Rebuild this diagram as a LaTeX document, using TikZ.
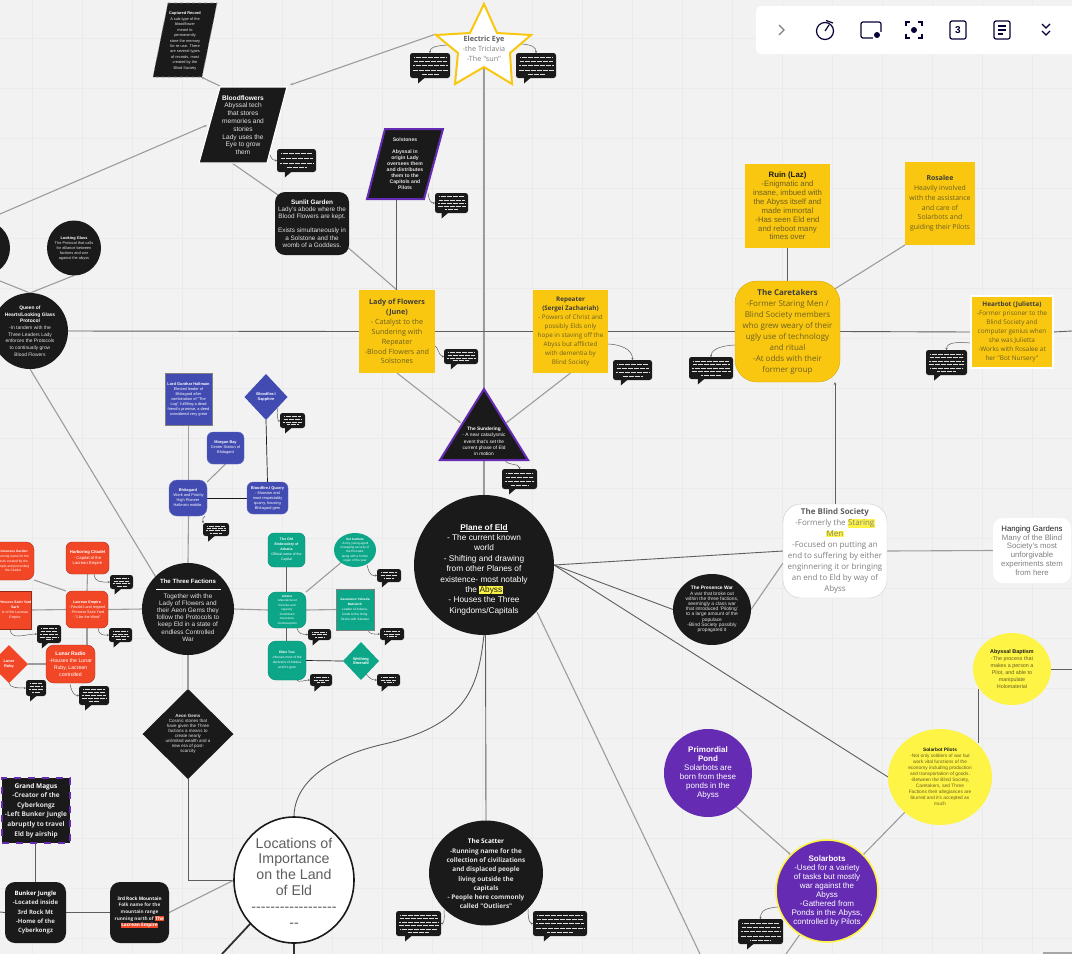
\documentclass[tikz,border=0pt]{standalone}
\usepackage{fontspec}
\setmainfont{Liberation Sans}
\newfontfamily\os{Open Sans}
\usetikzlibrary{shapes.geometric,arrows.meta,calc}
\pgfdeclarelayer{bg}\pgfsetlayers{bg,main}
\definecolor{paper}{HTML}{F2F2F2}
\definecolor{gridc}{HTML}{EBEBEB}
\definecolor{dark}{HTML}{1A1A1A}
\definecolor{lite}{HTML}{E2E2E2}
\definecolor{ylw}{HTML}{FAC710}
\definecolor{ylwt}{HTML}{6B6020}
\definecolor{lem}{HTML}{FEF445}
\definecolor{redb}{HTML}{F24726}
\definecolor{blu}{HTML}{414BB2}
\definecolor{grn}{HTML}{0CA789}
\definecolor{pur}{HTML}{652CB3}
\definecolor{navy}{HTML}{050038}
\definecolor{ln}{HTML}{9C9C9C}
\definecolor{lnd}{HTML}{5E5E5E}
\definecolor{gr}{HTML}{808080}
\newcommand\fs[2]{\fontsize{#1}{#2}\selectfont}
\newcommand\hl[2]{{\setlength\fboxsep{0.3pt}\colorbox{#1}{#2}}}
\tikzset{
 shp/.style={inner sep=0pt,outer sep=0pt},
 txt/.style={align=center,inner sep=0pt,outer sep=0pt},
 blk/.style={shp,fill=dark,text=lite},
 con/.style={line width=1.1pt,draw=ln},
 cond/.style={line width=.9pt,draw=lnd},
 tipped/.style={-{Stealth[length=3pt,width=2.5pt]}},
 bc/.style={line width=.5pt,draw=lnd,-{Stealth[length=2pt,width=2pt]}},
 ylwb/.style={shp,fill=ylw,text=ylwt},
 redn/.style={shp,fill=redb,text=white,rounded corners=6pt,draw=redb!70!black,line width=.4pt},
 blun/.style={shp,fill=blu,text=white,rounded corners=6pt,draw=blu!80!white,line width=.4pt},
 grnn/.style={shp,fill=grn,text=white,rounded corners=6pt,draw=grn!80!black,line width=.4pt},
}
% box from corners, text inside
\newcommand\Bx[7]{%
 \pgfmathsetmacro\Cxv{(#2+#4)/2}\pgfmathsetmacro\Cyv{(#3+#5)/2}%
 \pgfmathsetmacro\Wv{#4-#2}\pgfmathsetmacro\Hv{#5-#3}%
 \node[align=center,#6,minimum width=\Wv pt,minimum height=\Hv pt] (#1) at (\Cxv,\Cyv) {#7};}
% ellipse with separate text node
\newcommand\El[8]{%
 \pgfmathsetmacro\Wv{2*#4}\pgfmathsetmacro\Hv{2*#5}%
 \node[ellipse,shp,#6,minimum width=\Wv pt,minimum height=\Hv pt] (#1) at (#2,#3) {};
 \node[txt,#7] (#1-t) at (#2,#3) {#8};}
% diamond with separate text node
\newcommand\Dm[8]{%
 \pgfmathsetmacro\Wv{2*#4}\pgfmathsetmacro\Hv{2*#5}\pgfmathsetmacro\Av{#4/#5}%
 \node[diamond,aspect=\Av,shp,#6,minimum width=\Wv pt,minimum height=\Hv pt] (#1) at (#2,#3) {};
 \node[txt,#7] (#1-t) at (#2,#3) {#8};}
% speech bubble with unreadable micro lines
\newcommand\Bub[6]{%
 \Bx{#1}{#2}{#3}{#4}{#5}{shp,fill=dark,rounded corners=2.5pt}{}
 \pgfmathsetmacro\Tv{#2+0.2*(#4-#2)}\pgfmathsetmacro\Tw{\Tv+7}\pgfmathsetmacro\Ty{#5+5.5}\pgfmathsetmacro\Tz{#5-.5}%
 \fill[dark] (\Tv,\Tz)--(\Tv,\Ty)--(\Tw,\Tz)--cycle;
 \foreach \i in {1,...,#6}{%
  \pgfmathsetmacro\Yv{#3+2+(#5-#3-4)*(\i-.5)/#6}%
  \pgfmathsetmacro\Iv{2.5+mod(\i*7,4)*.6+(\i==#6)*(#4-#2)*.18}%
  \pgfmathsetmacro\Xa{#2+\Iv}\pgfmathsetmacro\Xb{#4-\Iv}%
  \draw[white!85!dark,line width=.4pt,dash pattern=on 1pt off .2pt] (\Xa,\Yv)--(\Xb,\Yv);}}
\newcommand\BC[6]{\coordinate (#1) at (#2,#3);
 \draw[bc] (#1) .. controls +(#4) and +(#5) .. (#6);}
\begin{document}
\begin{tikzpicture}[x=1pt,y=-1pt]
\useasboundingbox (0,0) rectangle (1072,954);
% ---------- free coordinates
\coordinate (lft1) at (0,214);
\coordinate (lft2) at (0,281);
\coordinate (lft3) at (0,610);
\coordinate (lft4) at (0,912);
\coordinate (rgt1) at (1072,331);
\coordinate (rgt2) at (1072,669);
\coordinate (bot1) at (700,954);
\coordinate (bot2) at (786,954);
\coordinate (bot3) at (294,954);
\coordinate (bot4) at (222,954);
% ---------- Parallelograms and star
\draw[fill=dark,draw=gr,line width=.6pt,dashed] (168,3)--(217,3)--(202,77)--(153,77)--cycle;
\node[txt,text=lite,font=\fs{3.9}{5.45}] (cap) at (185,41) {\textbf{\textcolor{white}{Captured Record}}\\A sub-type of the\\bloodflower\\meant to\\permanently\\store the memory\\for re-use. There\\are several types\\of records, most\\created by the\\Blind Society};
\draw[fill=dark,draw=white,line width=1.2pt] (220,87)--(287,87)--(267,163)--(199,163)--cycle;
\node[txt,text=lite,font=\fs{6.6}{7.8}] (bf) at (243,125) {\textbf{\textcolor{white}{Bloodflowers}}\\Abyssal tech\\that stores\\memories and\\stories\\Lady uses the\\Eye to grow\\them};
\draw[fill=dark,draw=pur,line width=2pt] (385,129)--(443,129)--(424,199)--(367,199)--cycle;
\node[txt,text=lite,font=\fs{5.1}{6}] (sol) at (405,164) {\textbf{Solstones}\\~\\\textbf{Abyssal in}\\\textbf{origin Lady}\\\textbf{oversees them}\\\textbf{and distributes}\\\textbf{them to the}\\\textbf{Capitols and}\\\textbf{Pilots}};
\draw[fill=white,draw=ylw,line width=2pt] (484,4)--(497,33)--(531,35)--(510,53)--(512,84)--(484,67)--(455,84)--(458,53)--(436,35)--(470,33)--cycle;
\node[txt,text=gr,font=\os\fs{7.2}{10}] (eye) at (484,49) {\textbf{\textcolor{lnd}{Electric Eye}}\\-the Triclavia\\-The "sun"};
\coordinate (bf-tr) at (290,85);
\coordinate (bf-tl) at (220,86);
\coordinate (bf-l) at (207,125);
\coordinate (bf-b) at (232,163);
\coordinate (cap-b) at (201,77);
\coordinate (eye-l) at (436,34);
\coordinate (eye-b) at (484,67);
\coordinate (sol-b) at (396,199);
% ---------- Top black
\Bx{sun}{275}{192}{349}{255}{blk,rounded corners=10pt,font=\fs{6.4}{7.2}}{\textbf{\textcolor{white}{Sunlit Garden}}\\Lady's abode where the\\Blood Flowers are kept.\\~\\Exists simultaneously in\\a Solstone and the\\womb of a Goddess.}
\El{qu}{30}{331}{38}{38}{fill=dark}{text=lite,font=\fs{4.9}{6.65}}{\textbf{\textcolor{white}{Queen of}}\\\textbf{\textcolor{white}{Hearts/Looking Glass}}\\\textbf{\textcolor{white}{Protocol}}\\-In tandem with the\\Three Leaders Lady\\enforces the Protocols\\to continually grow\\Blood Flowers}
\El{lg}{74}{248}{27}{27.5}{fill=dark}{text=lite,font=\fs{3.9}{5}}{\textbf{\textcolor{white}{Looking Glass}}\\The Protocol that calls\\for alliance between\\factions and war\\against the abyss}
\El{lg2}{-17}{248}{27}{27.5}{fill=dark}{text=lite,font=\fs{3.7}{5}}{}
% ---------- Yellow boxes
\Bx{lady}{359}{290}{435}{373}{ylwb,font=\os\fs{7.2}{9.9}}{\textbf{\textcolor{dark!85}{Lady of Flowers}}\\\textbf{\textcolor{dark!85}{(June)}}\\- Catalyst to the\\Sundering with\\Repeater\\-Blood Flowers and\\Solstones}
\Bx{rep}{533}{290}{608}{373}{ylwb,font=\os\fs{6.3}{8.9}}{\textbf{\textcolor{dark!85}{Repeater}}\\\textbf{\textcolor{dark!85}{(Sergei Zachariah)}}\\- Powers of Christ and\\possibly Elds only\\hope in staving off the\\Abyss but afflicted\\with dementia by\\Blind Society}
\Bx{ruin}{745}{164}{830}{248}{ylwb,font=\fs{7.8}{8.9}}{\textbf{\textcolor{dark}{Ruin (Laz)}}\\-Enigmatic and\\insane, imbued with\\the Abyss itself and\\made immortal\\-Has seen Eld end\\and reboot many\\times over}
\Bx{ros}{905}{162}{975}{245}{ylwb,font=\os\fs{6.9}{9.8}}{\textbf{\textcolor{dark!85}{Rosalee}}\\Heavily involved\\with the assistance\\and care of\\Solarbots and\\guiding their Pilots}
\Bx{care}{735}{281}{840}{382}{ylwb,rounded corners=22pt,draw=ylw!85!black,line width=.4pt,font=\os\fs{8}{11}}{\textbf{\textcolor{dark!85}{The Caretakers}}\\-Former Staring Men /\\Blind Society members\\who grew weary of their\\ugly use of technology\\and ritual\\-At odds with their\\former group}
\Bx{hb}{971}{296}{1053}{368}{ylwb,draw=white,line width=2pt,font=\os\fs{6.4}{9}}{\textbf{\textcolor{dark!85}{Heartbot (Julietta)}}\\-Former prisoner to the\\Blind Society and\\computer genius when\\she was Julietta\\-Works with Rosalee at\\her "Bot Nursery"}
% ---------- Sundering
\draw[fill=dark,draw=pur,line width=2pt] (484,389)--(528,460)--(440,460)--cycle;
\node[txt,text=white,font=\fs{4.8}{6.3}] (sund) at (484,441.5) {\textbf{The Sundering}\\- A near cataclysmic\\event that's set the\\current phase of Eld\\in motion};
\coordinate (sund-l) at (461,423);
\coordinate (sund-r) at (506,423);
\coordinate (sund-t) at (484,388);
% ---------- Blue
\Bx{lord}{165}{373}{212}{425}{shp,fill=blu,draw=gray,line width=.6pt,text=white,font=\fs{3.9}{5}}{\textbf{Lord Gunthar Hallmain}\\Elected leader of\\Bhitagard after\\combination of "The\\Log", fulfilling a dead\\friend's promise, a deed\\considered very great}
\Bx{mor}{207}{432}{244}{464}{blun,font=\fs{3.9}{5}}{\textbf{Morgan Bay}\\Center Station of\\Bhitagard}
\Bx{bhi}{169}{480}{207}{516}{blun,rounded corners=8pt,font=\fs{3.9}{5}}{\textbf{Bhitagard}\\-Work and Priority\\High Pioneer\\Hallmain mobile.}
\Bx{qua}{247}{482}{288}{514}{blun,font=\fs{3.9}{5}}{\textbf{Bloodfire.I Quarry}\\- Mansion and\\most respectably\\quarry, housing\\Bhitagard gem}
\Dm{sap}{266}{397}{21.5}{23}{fill=blu}{text=white,font=\fs{3.9}{5}}{\textbf{Bloodfire.I}\\\textbf{Sapphire}}
% ---------- Red
\Bx{pas}{-8}{542}{34}{580}{redn,rounded corners=8pt,font=\fs{3.3}{4.9}}{\textbf{Poisonous Garden}\\Running name for the\\lands created by the\\simple and preventing\\the Citadel}
\Bx{har}{66}{542}{109}{574}{redn,font=\fs{4.2}{5.8}}{\textbf{Harboring Citadel}\\- Capital of the\\Lacrean Empire}
\Bx{lac}{66}{591}{108}{628}{redn,font=\fs{3.7}{5}}{\textbf{Lacrean Empire}\\- Feudal Land reigned\\- Princess Saint Yard\\- "Like the Word"}
\Bx{pri}{-1}{591}{31}{629}{shp,fill=redb,text=white,draw=redb!60!black,line width=.6pt,font=\fs{3.5}{5}}{\textbf{Princess Saint Yard}\\\textbf{Sarh}\\le of the Lacrean\\Empire}
\Bx{rad}{46}{645}{95}{683}{redn,rounded corners=8pt,font=\fs{5.2}{7}}{\textbf{Lunar Radio}\\-Houses the Lunar\\Ruby, Lacrean\\controlled}
\Dm{rub}{9}{664}{19}{19}{fill=redb}{text=white,font=\fs{3.9}{5}}{\textbf{Lunar}\\\textbf{Ruby}}
% ---------- Green
\Bx{old}{268}{533}{305}{567}{grnn,font=\fs{3.5}{5}}{\textbf{The Old}\\\textbf{Embroidery of}\\\textbf{Arkaria}\\Official name of the\\Capital}
\Bx{ark}{268}{592}{306}{628}{grnn,rounded corners=8pt,font=\fs{3}{4.5}}{\textbf{Arkaria}\\-Manufactured\\miracles and\\tapestry\\-Contributor\\Assurance\\-Contraceptors}
\Bx{eld}{268}{641}{306}{680}{grnn,rounded corners=8pt,font=\fs{3.3}{5}}{\textbf{Elder Tree}\\-Houses most of the\\denizens of Arkaria\\and it's gem}
\Bx{ass}{336}{589}{374}{630}{shp,fill=grn,draw=gray,line width=.6pt,text=white,font=\fs{3.2}{5.1}}{\textbf{Assurance Yelvaria}\\\textbf{Matriarch}\\Leader of Arkaria,\\lends to the living\\Sirens with Saloster}
\El{sin}{355}{550}{21}{17}{fill=grn}{text=white,font=\fs{3.1}{4.2}}{\textbf{Sol Institute}\\-A tiny young agent\\managing security of\\the Emerald,\\along with a former\\organ of the year}
\Dm{eme}{361}{661}{18}{19}{fill=grn}{text=white,font=\fs{3.9}{4.8}}{\textbf{Writhing}\\\textbf{Emerald}}
% ---------- Big black
\El{fac}{188}{609}{46}{46}{fill=dark}{text=lite,font=\fs{6.4}{7.15},yshift=-8.5pt}{Together with the\\Lady of Flowers and\\their Aeon Gems they\\follow the Protocols to\\keep Eld in a state of\\endless Controlled\\War}
\node[txt,text=white,font=\fs{6.1}{7}] (fac-h) at (188,581) {\textbf{The Three Factions}};
\draw[white,line width=.5pt] (156,589)--(221,589);
\Dm{aeo}{188}{734}{45.5}{45}{fill=dark}{text=lite,font=\fs{4.5}{5}}{\textbf{Aeon Gems}\\Cosmic stones that\\have given the Three\\factions a means to\\create nearly\\unlimited wealth and a\\new era of post-\\scarcity}
\El{pla}{484}{565}{70}{70}{fill=dark}{text=white,font=\fs{8.3}{10.4},yshift=-4.5pt}{\underline{\textbf{Plane of Eld}}\\- The current known\\world\\- Shifting and drawing\\from other Planes of\\existence- most notably\\the \hl{lem}{\textcolor{dark}{Abyss}}\\- Houses the Three\\Kingdoms/Capitals}
\El{pw}{712}{609.5}{39}{35.5}{fill=dark}{text=lite,font=\fs{4.9}{5.2}}{\textbf{\textcolor{white}{The Presence War}}\\A war that broke out\\within the three factions,\\seemingly a class war\\that introduced 'Piloting'\\to a large amount of the\\populace\\-Blind Society possibly\\propagated it}
\El{sca}{486}{873}{57}{52.5}{fill=dark}{text=lite,font=\os\fs{6.4}{9.3},yshift=-1pt}{\textbf{\textcolor{white}{The Scatter}}\\\textbf{-Running name for the}\\\textbf{collection of civilizations}\\\textbf{and displaced people}\\\textbf{living outside the}\\\textbf{capitals}\\\textbf{- People here commonly}\\\textbf{called "Outliers"}}
% ---------- White
\Bx{bli}{783}{504}{887}{598}{shp,fill=white,draw=gray!40,line width=.4pt,rounded corners=18pt,text=gr,font=\os\fs{8}{11}}{\textbf{\textcolor{lnd}{The Blind Society}}\\-Formerly the \hl{lem}{Staring}\\\hl{lem}{Men}\\-Focused on putting an\\end to suffering by either\\enginnering it or bringing\\an end to Eld by way of\\Abyss}
\Bx{han}{993}{518}{1071}{583}{shp,fill=white,rounded corners=10pt,text=gr,font=\fs{7.8}{8.8}}{\textcolor{dark}{Hanging Gardens}\\Many of the Blind\\Society's most\\unforgivable\\experiments stem\\from here}
% ---------- Lemon and purple
\El{bap}{1012}{669}{39}{36}{fill=lem}{text=ylwt,font=\fs{5.4}{7.15}}{\textbf{\textcolor{dark}{Abyssal Baptism}}\\-The process that\\makes a person a\\Pilot, and able to\\manipulate\\Holomaterial}
\El{pil}{940}{777}{52}{48}{fill=lem}{text=ylwt,font=\fs{4.8}{6}}{\textbf{\textcolor{dark}{Solarbot Pilots}}\\-Not only soldiers of war but\\work vital functions of the\\economy including production\\and transportation of goods.\\-Between the Blind Society,\\Caretakers, and Three\\Factions their allegiances are\\blurred and it's accepted as\\much}
\coordinate (pil-r) at (978,743);
\coordinate (bap-l) at (978,689);
\El{pon}{708}{773}{44}{44}{fill=pur}{text=white,font=\fs{8}{9}}{\textbf{Primordial}\\\textbf{Pond}\\Solarbots are\\born from these\\ponds in the\\Abyss}
\El{bot}{827}{891}{51}{51}{fill=pur,draw=lem,line width=1.6pt}{text=white,font=\fs{8}{8.9}}{\textbf{Solarbots}\\-Used for a variety\\of tasks but mostly\\war against the\\Abyss\\-Gathered from\\Ponds in the Abyss,\\controlled by Pilots}
% ---------- Lower left
\Bx{mag}{2}{778}{70}{843}{shp,fill=dark,text=lite,draw=pur,line width=1.8pt,dash pattern=on 7pt off 7pt,font=\os\fs{6.5}{9.6}}{\textbf{\textcolor{white}{Grand Magus}}\\\textbf{-Creator of the}\\\textbf{Cyberkongz}\\\textbf{-Left Bunker Jungle}\\\textbf{abruptly to travel}\\\textbf{Eld by airship}}
\Bx{bun}{5}{882}{66}{943}{blk,rounded corners=10pt,font=\os\fs{6}{9.1}}{\textbf{\textcolor{white}{Bunker Jungle}}\\\textbf{-Located inside}\\\textbf{3rd Rock Mt}\\\textbf{-Home of the}\\\textbf{Cyberkongz}}
\Bx{roc}{110}{882}{169}{943}{blk,rounded corners=10pt,font=\os\fs{4.7}{6.7}}{\textbf{\textcolor{white}{3rd Rock Mountain}}\\\textbf{Folk name for the}\\\textbf{mountain range}\\\textbf{running north of} \hl{redb}{\textbf{\textcolor{white}{The}}}\\\hl{redb}{\textbf{\textcolor{white}{Lacrean Empire}}}}
\El{loc}{294}{880}{60}{63}{fill=white,draw=dark,line width=1.6pt}{text=lnd,font=\fs{14.2}{15.8},yshift=-2.5pt}{Locations of\\Importance\\on the Land\\of Eld\\-{}-{}-{}-{}-{}-{}-{}-{}-{}-{}-{}-{}-{}-{}-{}-{}-{}-\\-{}-}
% ---------- Bubbles
\Bub{b1}{277}{149}{316}{172}{4}
\Bub{b2}{410}{53}{450}{78}{5}
\Bub{b3}{516}{53}{556}{78}{5}
\Bub{b4}{435}{193}{468}{213}{5}
\Bub{b5}{444}{349}{478}{364}{4}
\Bub{b6}{613}{360}{652}{380}{4}
\Bub{b7}{502}{469}{537}{489}{4}
\Bub{b8}{689}{357}{733}{379}{5}
\Bub{b9}{926}{350}{967}{375}{6}
\Bub{b10}{280}{413}{305}{428}{4}
\Bub{b11}{203}{523}{229}{536}{4}
\Bub{b12}{110}{575}{133}{589}{4}
\Bub{b13}{109}{628}{132}{642}{4}
\Bub{b14}{37}{625}{61}{643}{5}
\Bub{b15}{26}{680}{46}{696}{4}
\Bub{b16}{79}{686}{109}{705}{5}
\Bub{b17}{308}{629}{331}{640}{3}
\Bub{b18}{310}{674}{332}{686}{3}
\Bub{b19}{377}{569}{401}{582}{3}
\Bub{b20}{380}{628}{404}{640}{3}
\Bub{b21}{377}{674}{400}{686}{3}
\Bub{b22}{738}{919}{783}{944}{5}
\Bub{b23}{396}{911}{441}{936}{6}
\Bub{b24}{533}{911}{587}{936}{5}
% ---------- Toolbar
\Bx{tb}{756}{6}{1080}{54}{shp,fill=white,rounded corners=5pt}{}
\draw[gr,line width=1.1pt] (779,25)--(784,30)--(779,35);
\begin{scope}[navy,line width=1.2pt]
\draw (825,31) circle[radius=8.5];
\draw (825,31)--(829,25);
\draw (826,20.5)--(833,23);
\draw[rounded corners=2pt] (861,22) rectangle (881,38);
\fill[white] (873,32) rectangle (883,41);
\fill (877,35) circle[radius=3];
\draw (906,26)--(906,22)--(910,22) (918,22)--(922,22)--(922,26) (922,34)--(922,38)--(918,38) (910,38)--(906,38)--(906,34);
\fill (914,30) circle[radius=3];
\draw[rounded corners=2pt] (950,21) rectangle (966,39);
\draw[rounded corners=2pt] (994,21) rectangle (1010,39);
\draw (998,26)--(1006,26) (998,30)--(1006,30) (998,34)--(1003,34);
\draw (1042,24)--(1046,28)--(1050,24) (1042,31)--(1046,35)--(1050,31);
\end{scope}
\node[txt,text=navy,font=\bfseries\fs{10}{11}] (tb3) at (958,30) {3};
\fill[gr!70] (1043,952) rectangle (1072,954);
% ---------- Background and connectors
\begin{pgfonlayer}{bg}
\fill[paper] (-20,-5) rectangle (1080,960);
\foreach \gx in {32,82,...,1072} \draw[gridc,line width=1pt] (\gx,0)--(\gx,954);
\foreach \gy in {38,88,...,954} \draw[gridc,line width=1pt] (0,\gy)--(1072,\gy);
\draw[con] (eye-b)--(pla.north);
\draw[con,tipped] (eye-l)--(bf-tr);
\draw[con,tipped] (lft1)--(bf-l);
\draw[con,tipped] (bf-tl)--(cap-b);
\draw[con] (bf-b)--($(sun.north west)+(3,3)$);
\draw[con] ($(sun.south east)+(-4,-10)$)--(lady.north);
\draw[cond] (sol-b)--(lady.north-|sol-b);
\draw[con] (lft2)--(qu.north);
\draw[con] (lg.south)--(qu.north);
\draw[con] (qu.south)--(fac.north west);
\draw[cond] (qu.east)--(lady.west);
\draw[cond] (lady.east)--(rep.west);
\draw[cond] (rep.east)--(care.west);
\draw[cond] (care.east)--(hb.west);
\draw[cond] (hb.east)--(rgt1);
\draw[con,tipped] (lady.south)--(sund-l);
\draw[con,tipped] (rep.south)--(sund-r);
\draw[cond] (ruin.south)--(ruin.south|-care.north);
\draw[con] (ros.south west)--($(care.center)+(40,-38)$);
\draw[cond,tipped] (bli.north)--(bli.north|-care.south);
\draw[con] (bli.east)--(han.west);
\draw[cond] (pla.east)--(bli.west);
\draw[cond] (pla.east)--(pw.west);
\draw[cond] (pla.east)--(pil.west);
\draw[con] ($(pla.center)+(53,47)$)--(bot1);
\draw[con] (pw.east)--(bli.193);
\draw[cond] ($(pla.center)+(1.5,68)$)--(sca.north);
\draw[cond] (pla.south) .. controls +(-6,50) and +(90,-20) .. (380,745) .. controls +(-50,12) and +(0,-35) .. (loc.north);
\draw[cond] (pil-r)--(bap-l);
\draw[cond] (bap.east)--(rgt2);
\draw[con] (pil.225)--(bot.45);
\draw[con,tipped] (pon.310)--(bot.135);
\draw[con] (bot.238)--(bot2);
\draw[line width=1.8pt,draw=dark!90] (loc.south)--(bot3);
\draw[line width=1.8pt,draw=dark!90] (loc.225)--(bot4);
% factions
\draw[con] (lord.south)--(bhi.north-|lord.south);
\draw[con] (bhi.south-|lord.south)--(fac.north);
\draw[con] (mor.south)--(bhi.40);
\draw[line width=.7pt,draw=dark] (bhi.east)--(qua.west);
\draw[line width=.7pt,draw=dark] (sap.south)--(qua.north);
\draw[con] (fac.south)--(aeo.north);
\draw[cond] (aeo.south) |- (loc.west);
\draw[con] (roc.east)--(loc.west);
\draw[cond] (bun.east)--(roc.west);
\draw[cond] (lft4)--(bun.west);
\draw[cond] (mag.south-|bun.north)--(bun.north);
\draw[con] (lft3)--(pri.east);
\draw[con] (pri.east)--(lac.west);
\draw[con] (lac.east)--(fac.west);
\draw[con] (pas.south east)--(lac.north west);
\draw[con] (har.south)--(lac.north);
\draw[con] (lac.south)--(lac.south|-rad.north);
\draw[con] (rub.east)--(rad.west);
\draw[con] (fac.east)--(ark.west);
\draw[cond] (old.south)--(old.south|-ark.north);
\draw[cond] (old.south|-ark.south)--(old.south|-eld.north);
\draw[con] (ark.north east)--(sin.222);
\draw[con] (ark.east)--(ass.west);
\draw[line width=.7pt,draw=dark] (eld.east)--(eme.west);
% bubble links
\BC{c1}{270}{155}{2,5}{-3,0}{b1.west}
\BC{c2}{447}{45}{-14,1}{0,-5}{b2.north}
\BC{c3}{522}{44}{12,1}{0,-5}{b3.north}
\BC{c4}{428}{193}{1,8}{-4,0}{b4.west}
\BC{c5}{435}{346}{3,1}{-5,0}{b5.west}
\BC{c6}{608}{344}{18,1}{0,-8}{b6.north}
\BC{c7}{505}{460}{2,6}{0,-6}{b7.north}
\BC{c8}{735}{345}{-20,1}{0,-5}{b8.north}
\BC{c9}{970}{343}{-20,-2}{0,-5}{b9.north}
\BC{c10}{278}{408}{-2,5}{-2,1}{b10.west}
\BC{c11}{205}{516}{-3,1}{0,-3}{b11.north west}
\BC{c12}{94}{574}{1,9}{-8,0}{b12.west}
\BC{c13}{98}{628}{1,8}{-5,0}{b13.west}
\BC{c14}{10}{629}{1,12}{-12,0}{b14.west}
\BC{c15}{9}{683}{1,5}{-8,0}{b15.west}
\BC{c16}{70}{684}{2,10}{-4,0}{b16.west}
\BC{c17}{297}{628}{1,6}{-5,0}{b17.west}
\BC{c18}{297}{680}{1,3}{-5,0}{b18.west}
\BC{c19}{367}{565}{3,12}{-4,0}{b19.west}
\BC{c20}{368}{630}{1,5}{-5,0}{b20.west}
\BC{c21}{366}{674}{4,5}{-4,0}{b21.west}
\BC{c22}{778}{907}{-17,1}{0,-5}{b22.north}
\BC{c23}{444}{910}{1,12}{2,0}{b23.east}
\BC{c24}{528}{909}{0,14}{-2,0}{b24.west}
\end{pgfonlayer}
\end{tikzpicture}
\end{document}
